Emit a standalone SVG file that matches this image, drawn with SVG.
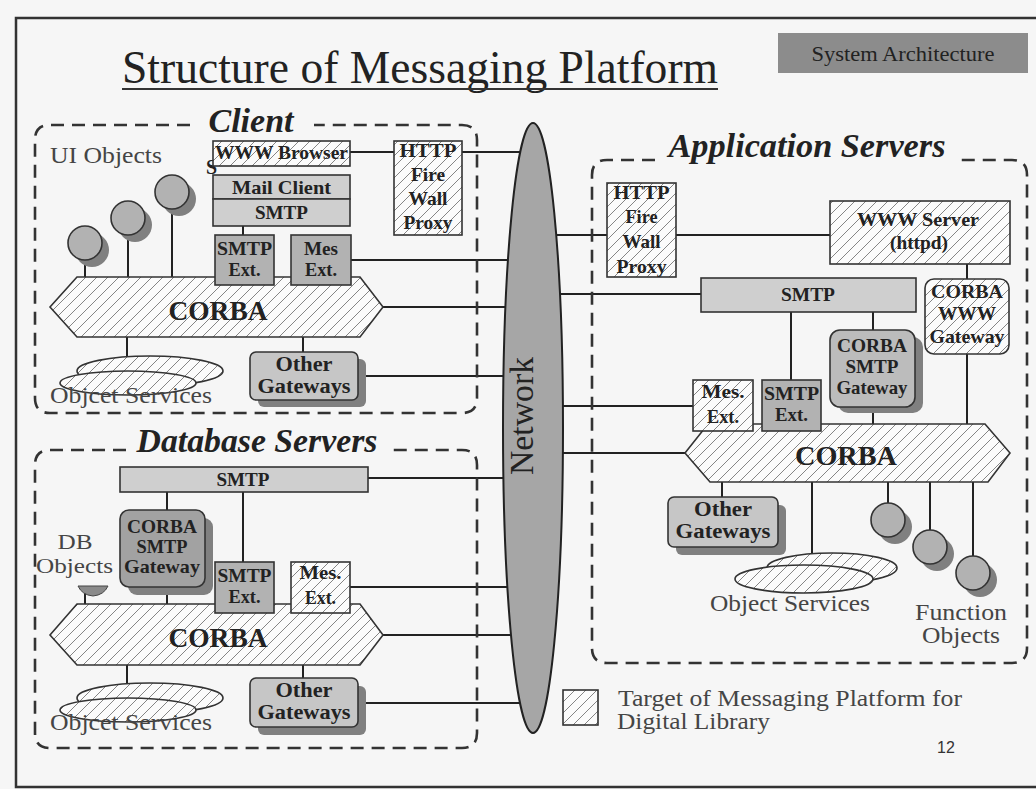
<svg xmlns="http://www.w3.org/2000/svg" width="1036" height="789" viewBox="0 0 1036 789" font-family="'Liberation Serif', 'Times New Roman', serif">
<defs>
<pattern id="hatch" patternUnits="userSpaceOnUse" width="11" height="11">
<rect width="11" height="11" fill="#fbfbfb"/>
<path d="M0,11 L11,0 M-2,2 L2,-2 M9,13 L13,9" stroke="#707070" stroke-width="0.85"/>
</pattern>
<style>
.ln{stroke:#222;stroke-width:2;fill:none}
.dash{stroke:#333;stroke-width:2.6;fill:none;stroke-dasharray:13 8}
.bx{stroke:#333;stroke-width:1.6}
.h{fill:url(#hatch)}
.lt{fill:#cfcfcf}
.md{fill:#b2b2b2}
.dk{fill:#a2a2a2}
.og{fill:#c6c6c6}
.sh{fill:#808080}
.t{font-family:'Liberation Serif','Times New Roman',serif;fill:#222}
.b{font-weight:bold}
.c{text-anchor:middle}
.lbl{font-family:'Liberation Serif','Times New Roman',serif;font-style:italic;font-weight:bold;font-size:34px;fill:#222}
.gr{fill:#454545}
</style>
</defs>
<rect x="0" y="0" width="1036" height="789" fill="#f6f6f6"/>
<rect x="16" y="18" width="1030" height="769" fill="none" stroke="#333" stroke-width="2.5"/>

<g id="title">
<text class="t" x="122" y="83" font-size="46" textLength="596" lengthAdjust="spacingAndGlyphs">Structure of Messaging Platform</text>
<line x1="122" y1="89" x2="718" y2="89" stroke="#333" stroke-width="2"/>
</g>
<g id="system-architecture">
<rect x="778" y="33" width="250" height="40" fill="#8c8c8c"/>
<text class="t c" x="903" y="61" font-size="21" textLength="183" lengthAdjust="spacingAndGlyphs">System Architecture</text>
</g>

<g id="connectors">
<line class="ln" x1="350" y1="152" x2="394" y2="152"/>
<line class="ln" x1="462" y1="152" x2="533" y2="152"/>
<line class="ln" x1="351" y1="260" x2="533" y2="260"/>
<line class="ln" x1="383" y1="307" x2="533" y2="307"/>
<line class="ln" x1="366" y1="376" x2="533" y2="376"/>
<line class="ln" x1="243" y1="226" x2="243" y2="235"/>
<line class="ln" x1="85" y1="260" x2="85" y2="277"/>
<line class="ln" x1="128" y1="235" x2="128" y2="277"/>
<line class="ln" x1="172" y1="209" x2="172" y2="277"/>
<line class="ln" x1="127" y1="337" x2="127" y2="357"/>
<line class="ln" x1="303" y1="337" x2="303" y2="352"/>

<line class="ln" x1="368" y1="478" x2="533" y2="478"/>
<line class="ln" x1="350" y1="587" x2="533" y2="587"/>
<line class="ln" x1="383" y1="635" x2="533" y2="635"/>
<line class="ln" x1="366" y1="703" x2="533" y2="703"/>
<line class="ln" x1="167" y1="492" x2="167" y2="510"/>
<line class="ln" x1="243" y1="492" x2="243" y2="562"/>
<line class="ln" x1="167" y1="594" x2="167" y2="604"/>
<line class="ln" x1="85" y1="592" x2="85" y2="604"/>
<line class="ln" x1="127" y1="665" x2="127" y2="684"/>
<line class="ln" x1="303" y1="665" x2="303" y2="678"/>

<line class="ln" x1="533" y1="235" x2="607" y2="235"/>
<line class="ln" x1="676" y1="235" x2="830" y2="235"/>
<line class="ln" x1="533" y1="294" x2="701" y2="294"/>
<line class="ln" x1="533" y1="406" x2="693" y2="406"/>
<line class="ln" x1="533" y1="453" x2="685" y2="453"/>
<line class="ln" x1="967" y1="264" x2="967" y2="279"/>
<line class="ln" x1="967" y1="354" x2="967" y2="424"/>
<line class="ln" x1="791" y1="312" x2="791" y2="380"/>
<line class="ln" x1="873" y1="312" x2="873" y2="330"/>
<line class="ln" x1="873" y1="412" x2="873" y2="424"/>
<line class="ln" x1="722" y1="482" x2="722" y2="497"/>
<line class="ln" x1="812" y1="482" x2="812" y2="553"/>
<line class="ln" x1="888" y1="482" x2="888" y2="503"/>
<line class="ln" x1="930" y1="482" x2="930" y2="530"/>
<line class="ln" x1="973" y1="482" x2="973" y2="556"/>
</g>

<g id="network">
<ellipse cx="533" cy="428" rx="30" ry="305" fill="#a6a6a6" stroke="#222" stroke-width="2"/>
<text class="t c" x="533" y="405" font-size="33" transform="rotate(-90 533 405)" dx="-11" textLength="118" lengthAdjust="spacingAndGlyphs">Network</text>
</g>

<g id="client">
<path class="dash" d="M190,125 H50 Q35,125 35,140 V398 Q35,413 50,413 H462 Q477,413 477,398 V140 Q477,125 462,125 H314"/>
<text class="lbl c" x="251" y="132" textLength="85" lengthAdjust="spacingAndGlyphs">Client</text>
<text class="t gr" x="50" y="163" font-size="24" textLength="112" lengthAdjust="spacingAndGlyphs">UI Objects</text>
</g>
<g id="client-ui-objects">
<circle class="sh" cx="92" cy="250" r="17"/>
<circle class="md bx" cx="85" cy="243" r="17"/>
<circle class="sh" cx="135" cy="225" r="17"/>
<circle class="md bx" cx="128" cy="218" r="17"/>
<circle class="sh" cx="179" cy="199" r="17"/>
<circle class="md bx" cx="172" cy="192" r="17"/>
</g>
<g id="client-corba">
<polygon class="h bx" points="77,277 360,277 383,307 360,337 77,337 50,307"/>
<text class="t b c" x="218" y="320" font-size="27" textLength="99" lengthAdjust="spacingAndGlyphs">CORBA</text>
</g>
<g id="client-www-browser">
<text class="t b" x="206" y="174" font-size="20">S</text>
<rect class="h bx" x="213" y="141" width="137" height="25"/>
<text class="t b c" x="281.5" y="159" font-size="18" textLength="133" lengthAdjust="spacingAndGlyphs">WWW Browser</text>
</g>
<g id="client-mail-client">
<rect class="lt bx" x="213" y="175" width="137" height="24"/>
<text class="t b c" x="281.5" y="194" font-size="19" textLength="99" lengthAdjust="spacingAndGlyphs">Mail Client</text>
</g>
<g id="client-smtp">
<rect class="lt bx" x="213" y="199" width="137" height="27"/>
<text class="t b c" x="281.5" y="219" font-size="19" textLength="53" lengthAdjust="spacingAndGlyphs">SMTP</text>
</g>
<g id="client-smtp-ext">
<rect class="md bx" x="215" y="235" width="59" height="50"/>
<text class="t b c" x="244.5" y="255" font-size="19" textLength="55" lengthAdjust="spacingAndGlyphs">SMTP</text>
<text class="t b c" x="244.5" y="276" font-size="19" textLength="32" lengthAdjust="spacingAndGlyphs">Ext.</text>
</g>
<g id="client-mes-ext">
<rect class="md bx" x="291" y="235" width="60" height="50"/>
<text class="t b c" x="321" y="255" font-size="19" textLength="34" lengthAdjust="spacingAndGlyphs">Mes</text>
<text class="t b c" x="321" y="276" font-size="19" textLength="32" lengthAdjust="spacingAndGlyphs">Ext.</text>
</g>
<g id="client-http-firewall">
<rect class="h bx" x="394" y="141" width="68" height="94"/>
<text class="t b c" x="428" y="157" font-size="19" textLength="57" lengthAdjust="spacingAndGlyphs">HTTP</text>
<text class="t b c" x="428" y="181" font-size="19" textLength="34" lengthAdjust="spacingAndGlyphs">Fire</text>
<text class="t b c" x="428" y="205" font-size="19" textLength="39" lengthAdjust="spacingAndGlyphs">Wall</text>
<text class="t b c" x="428" y="229" font-size="19" textLength="49" lengthAdjust="spacingAndGlyphs">Proxy</text>
</g>
<g id="client-object-services">
<ellipse class="h bx" cx="150" cy="371" rx="73" ry="15"/>
<ellipse class="h bx" cx="128" cy="383" rx="68" ry="12"/>
<text class="t gr" x="50" y="403" font-size="24" textLength="162" lengthAdjust="spacingAndGlyphs">Objcet Services</text>
</g>
<g id="client-other-gateways">
<rect class="sh" x="258" y="359" width="108" height="48" rx="6"/>
<rect class="og bx" x="250" y="352" width="108" height="48" rx="6"/>
<text class="t b c" x="304" y="371" font-size="20" textLength="57" lengthAdjust="spacingAndGlyphs">Other</text>
<text class="t b c" x="304" y="393" font-size="20" textLength="93" lengthAdjust="spacingAndGlyphs">Gateways</text>
</g>

<g id="database-servers">
<path class="dash" d="M126,450 H50 Q35,450 35,465 V733 Q35,748 50,748 H462 Q477,748 477,733 V465 Q477,450 462,450 H386"/>
<text class="lbl c" x="257" y="452" textLength="241" lengthAdjust="spacingAndGlyphs">Database Servers</text>
<text class="t gr c" x="75" y="549" font-size="22" textLength="35" lengthAdjust="spacingAndGlyphs">DB</text>
<text class="t gr" x="36" y="573" font-size="22" textLength="77" lengthAdjust="spacingAndGlyphs">Objects</text>
</g>
<g id="db-objects">
<path d="M78,586 H108 Q104,595 93,596 Q82,595 78,586 Z" fill="#8a8a8a" stroke="#444" stroke-width="1"/>
</g>
<g id="db-smtp">
<rect class="lt bx" x="120" y="467" width="248" height="25"/>
<text class="t b c" x="243" y="486" font-size="18" textLength="53" lengthAdjust="spacingAndGlyphs">SMTP</text>
</g>
<g id="db-corba-smtp-gateway">
<rect class="sh" x="128" y="518" width="85" height="77" rx="9"/>
<rect class="dk bx" x="120" y="510" width="85" height="77" rx="9"/>
<text class="t b c" x="162" y="533" font-size="19" textLength="70" lengthAdjust="spacingAndGlyphs">CORBA</text>
<text class="t b c" x="162" y="553" font-size="19" textLength="51" lengthAdjust="spacingAndGlyphs">SMTP</text>
<text class="t b c" x="162" y="573" font-size="19" textLength="76" lengthAdjust="spacingAndGlyphs">Gateway</text>
</g>
<g id="db-corba">
<polygon class="h bx" points="77,604 360,604 383,635 360,665 77,665 50,635"/>
<text class="t b c" x="218" y="647" font-size="27" textLength="99" lengthAdjust="spacingAndGlyphs">CORBA</text>
</g>
<g id="db-smtp-ext">
<rect class="md bx" x="215" y="562" width="59" height="51"/>
<text class="t b c" x="244.5" y="582" font-size="19" textLength="54" lengthAdjust="spacingAndGlyphs">SMTP</text>
<text class="t b c" x="244.5" y="603" font-size="19" textLength="32" lengthAdjust="spacingAndGlyphs">Ext.</text>
</g>
<g id="db-mes-ext">
<rect class="h bx" x="291" y="562" width="59" height="51"/>
<text class="t b c" x="320.5" y="579" font-size="19" textLength="42" lengthAdjust="spacingAndGlyphs">Mes.</text>
<text class="t b c" x="320.5" y="604" font-size="19" textLength="31" lengthAdjust="spacingAndGlyphs">Ext.</text>
</g>
<g id="db-object-services">
<ellipse class="h bx" cx="150" cy="698" rx="73" ry="15"/>
<ellipse class="h bx" cx="128" cy="710" rx="68" ry="12"/>
<text class="t gr" x="50" y="730" font-size="24" textLength="162" lengthAdjust="spacingAndGlyphs">Objcet Services</text>
</g>
<g id="db-other-gateways">
<rect class="sh" x="258" y="686" width="108" height="49" rx="6"/>
<rect class="og bx" x="250" y="678" width="108" height="49" rx="6"/>
<text class="t b c" x="304" y="697" font-size="20" textLength="57" lengthAdjust="spacingAndGlyphs">Other</text>
<text class="t b c" x="304" y="719" font-size="20" textLength="93" lengthAdjust="spacingAndGlyphs">Gateways</text>
</g>

<g id="application-servers">
<path class="dash" d="M655,160 H607 Q592,160 592,175 V648 Q592,663 607,663 H1012 Q1027,663 1027,648 V175 Q1027,160 1012,160 H955"/>
<text class="lbl c" x="807" y="157" textLength="277" lengthAdjust="spacingAndGlyphs">Application Servers</text>
</g>
<g id="app-http-firewall">
<rect class="h bx" x="607" y="183" width="69" height="94"/>
<text class="t b c" x="641.5" y="199" font-size="19" textLength="56" lengthAdjust="spacingAndGlyphs">HTTP</text>
<text class="t b c" x="641.5" y="223" font-size="19" textLength="32" lengthAdjust="spacingAndGlyphs">Fire</text>
<text class="t b c" x="641.5" y="248" font-size="19" textLength="38" lengthAdjust="spacingAndGlyphs">Wall</text>
<text class="t b c" x="641.5" y="273" font-size="19" textLength="50" lengthAdjust="spacingAndGlyphs">Proxy</text>
</g>
<g id="app-www-server">
<rect class="h bx" x="830" y="201" width="180" height="63"/>
<text class="t b c" x="918" y="226" font-size="19" textLength="122" lengthAdjust="spacingAndGlyphs">WWW Server</text>
<text class="t b c" x="919" y="249" font-size="19" textLength="58" lengthAdjust="spacingAndGlyphs">(httpd)</text>
</g>
<g id="app-smtp">
<rect class="lt bx" x="701" y="278" width="215" height="34"/>
<text class="t b c" x="808" y="301" font-size="19" textLength="54" lengthAdjust="spacingAndGlyphs">SMTP</text>
</g>
<g id="app-corba-www-gateway">
<rect class="h bx" x="925" y="279" width="84" height="75" rx="9"/>
<text class="t b c" x="967" y="298" font-size="19" textLength="72" lengthAdjust="spacingAndGlyphs">CORBA</text>
<text class="t b c" x="967" y="320" font-size="19" textLength="58" lengthAdjust="spacingAndGlyphs">WWW</text>
<text class="t b c" x="967" y="343" font-size="19" textLength="75" lengthAdjust="spacingAndGlyphs">Gateway</text>
</g>
<g id="app-corba-smtp-gateway">
<rect class="sh" x="838" y="337" width="85" height="76" rx="10"/>
<rect class="bx" x="830" y="330" width="85" height="77" rx="10" fill="#bcbcbc"/>
<text class="t b c" x="872" y="352" font-size="19" textLength="70" lengthAdjust="spacingAndGlyphs">CORBA</text>
<text class="t b c" x="872" y="373" font-size="19" textLength="53" lengthAdjust="spacingAndGlyphs">SMTP</text>
<text class="t b c" x="872" y="394" font-size="19" textLength="71" lengthAdjust="spacingAndGlyphs">Gateway</text>
</g>
<g id="app-corba">
<polygon class="h bx" points="708,424 985,424 1010,453 988,482 710,482 685,453"/>
<text class="t b c" x="846" y="465" font-size="28" textLength="102" lengthAdjust="spacingAndGlyphs">CORBA</text>
</g>
<g id="app-mes-ext">
<rect class="h bx" x="693" y="380" width="60" height="51"/>
<text class="t b c" x="723" y="398" font-size="19" textLength="43" lengthAdjust="spacingAndGlyphs">Mes.</text>
<text class="t b c" x="723" y="423" font-size="19" textLength="32" lengthAdjust="spacingAndGlyphs">Ext.</text>
</g>
<g id="app-smtp-ext">
<rect class="md bx" x="762" y="380" width="59" height="51"/>
<text class="t b c" x="791.5" y="400" font-size="19" textLength="55" lengthAdjust="spacingAndGlyphs">SMTP</text>
<text class="t b c" x="791.5" y="421" font-size="19" textLength="33" lengthAdjust="spacingAndGlyphs">Ext.</text>
</g>
<g id="app-other-gateways">
<rect class="sh" x="676" y="505" width="110" height="50" rx="6"/>
<rect class="og bx" x="668" y="497" width="110" height="50" rx="6"/>
<text class="t b c" x="723" y="516" font-size="20" textLength="58" lengthAdjust="spacingAndGlyphs">Other</text>
<text class="t b c" x="723" y="538" font-size="20" textLength="95" lengthAdjust="spacingAndGlyphs">Gateways</text>
</g>
<g id="app-object-services">
<ellipse class="h bx" cx="832" cy="568" rx="65" ry="15"/>
<ellipse class="h bx" cx="804" cy="579" rx="69" ry="14"/>
<text class="t gr" x="710" y="611" font-size="24" textLength="160" lengthAdjust="spacingAndGlyphs">Object Services</text>
</g>
<g id="app-function-objects">
<circle class="sh" cx="895" cy="527" r="17"/>
<circle class="md bx" cx="888" cy="520" r="17"/>
<circle class="sh" cx="937" cy="554" r="17"/>
<circle class="md bx" cx="930" cy="547" r="17"/>
<circle class="sh" cx="980" cy="580" r="17"/>
<circle class="md bx" cx="973" cy="573" r="17"/>
<text class="t gr" x="915" y="620" font-size="23" textLength="92" lengthAdjust="spacingAndGlyphs">Function</text>
<text class="t gr" x="922" y="643" font-size="23" textLength="78" lengthAdjust="spacingAndGlyphs">Objects</text>
</g>

<g id="legend">
<rect class="h bx" x="563" y="690" width="35" height="35"/>
<text class="t gr" x="618" y="706" font-size="23" textLength="344" lengthAdjust="spacingAndGlyphs">Target of Messaging Platform for</text>
<text class="t gr" x="617" y="729" font-size="23" textLength="153" lengthAdjust="spacingAndGlyphs">Digital Library</text>
</g>
<text x="946" y="753" font-family="'Liberation Sans', Arial, sans-serif" font-size="16" fill="#333" text-anchor="middle">12</text>
</svg>
